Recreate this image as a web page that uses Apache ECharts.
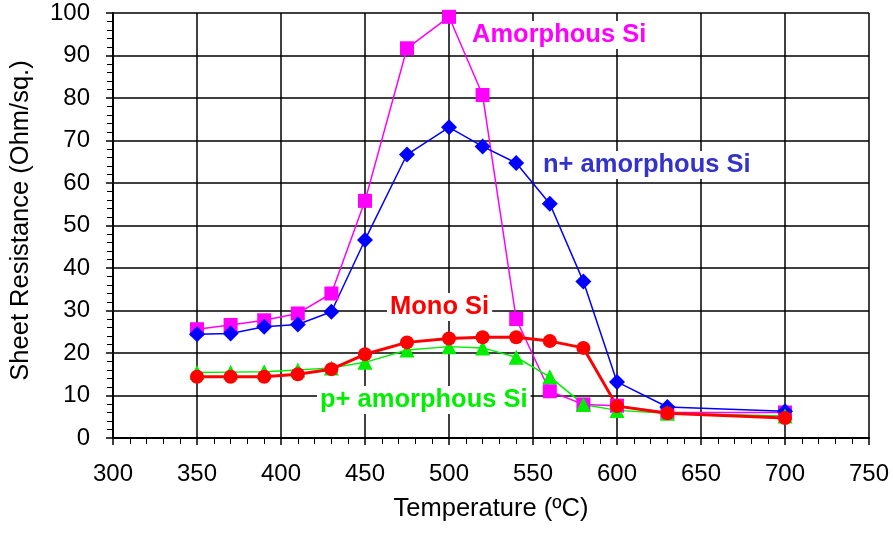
<!DOCTYPE html>
<html>
<head>
<meta charset="utf-8">
<script src="https://cdn.jsdelivr.net/npm/echarts@6/dist/echarts.min.js"></script>
<style>
  html, body { margin: 0; padding: 0; background: #fff; }
  #chart { width: 893px; height: 533px; }
</style>
</head>
<body>
<div id="chart"></div>
<script>
// temperatures (ºC)
var temps = [350, 370, 390, 410, 430, 450, 475, 500, 520, 540, 560, 580, 600, 630, 700]
// sheet resistance (Ohm/sq.)
var amorphousSi = [25.6, 26.6, 27.7, 29.3, 34.0, 55.8, 91.7, 99.1, 80.7, 28.0, 11.0, 7.9, 7.6, 6.0, 6.0]
var nAmorphousSi = [24.4, 24.6, 26.2, 26.7, 29.7, 46.6, 66.7, 73.1, 68.6, 64.7, 55.1, 36.8, 13.2, 7.3, 6.3]
var monoSi = [14.4, 14.4, 14.4, 15.0, 16.2, 19.7, 22.5, 23.4, 23.7, 23.7, 22.8, 21.2, 7.5, 5.8, 4.7]
var pAmorphousSi = [15.4, 15.5, 15.6, 16.0, 16.5, 17.8, 20.7, 21.5, 21.2, 19.0, 14.4, 7.9, 6.5, 5.8, 5.2]

var font = '"Liberation Sans", Arial, Helvetica, sans-serif'

function pairs(ys) {
  var out = []
  for (var i = 0; i < temps.length; i++) out.push([temps[i], ys[i]])
  return out
}

function line(name, ys, color, symbol, size, width) {
  return {
    name: name,
    type: 'line',
    data: pairs(ys),
    symbol: symbol,
    symbolSize: size,
    showAllSymbol: true,
    itemStyle: { color: color },
    lineStyle: { color: color, width: width },
    animation: false
  }
}

var chart = echarts.init(document.getElementById('chart'))

var axisCommon = {
  axisLine: { lineStyle: { color: '#000', width: 2 } },
  axisTick: { inside: false, length: 7, lineStyle: { color: '#000', width: 1.5 } },
  minorTick: { show: true, splitNumber: 5, length: 6, lineStyle: { color: '#000', width: 1 } },
  splitLine: { show: true, lineStyle: { color: '#000', width: 1.5 } }
}

chart.setOption({
  backgroundColor: '#fff',
  grid: { left: 112, right: 24, top: 13, bottom: 95 },
  xAxis: Object.assign({}, axisCommon, {
    type: 'value',
    min: 300, max: 750, interval: 50,
    name: 'Temperature (ºC)',
    nameLocation: 'middle',
    nameGap: 58,
    nameTextStyle: { color: '#000', fontSize: 25.5, fontFamily: font },
    axisLabel: { color: '#000', fontSize: 24, fontFamily: font, margin: 24 }
  }),
  yAxis: Object.assign({}, axisCommon, {
    type: 'value',
    min: 0, max: 100, interval: 10,
    name: 'Sheet Resistance (Ohm/sq.)',
    nameLocation: 'middle',
    nameGap: 79,
    nameTextStyle: { color: '#000', fontSize: 25.5, fontFamily: font, padding: [0, 0, 0, 10] },
    axisLabel: { color: '#000', fontSize: 24, fontFamily: font, margin: 23 }
  }),
  series: [
    line('Amorphous Si', amorphousSi, '#ff00ff', 'rect', 14, 1.5),
    line('n+ amorphous Si', nAmorphousSi, '#0000ff', 'diamond', 16, 1.5),
    line('p+ amorphous Si', pAmorphousSi, '#00ee00', 'triangle', 15, 1.5),
    line('Mono Si', monoSi, '#ff0000', 'circle', 14, 3)
  ],
  graphic: [
    { type: 'text', left: 469, top: 21, z: 100,
      style: { text: 'Amorphous Si', fill: '#ff00ff', font: 'bold 25.5px ' + font, backgroundColor: '#fff', padding: [1, 3] } },
    { type: 'text', left: 540, top: 151, z: 100,
      style: { text: 'n+ amorphous Si', fill: '#3333cc', font: 'bold 25.5px ' + font, backgroundColor: '#fff', padding: [1, 3] } },
    { type: 'text', left: 387, top: 293, z: 100,
      style: { text: 'Mono Si', fill: '#ff0000', font: 'bold 25.5px ' + font, backgroundColor: '#fff', padding: [1, 3] } },
    { type: 'text', left: 317, top: 386, z: 100,
      style: { text: 'p+ amorphous Si', fill: '#00ee00', font: 'bold 25.5px ' + font, backgroundColor: '#fff', padding: [1, 3] } }
  ]
})
</script>
</body>
</html>
